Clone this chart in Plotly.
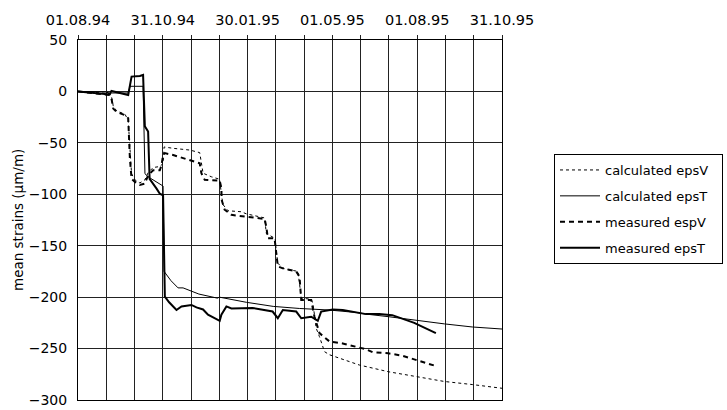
import plotly.graph_objects as go

# x = days since 01.08.94
date_labels = ["01.08.94", "31.10.94", "30.01.95", "01.05.95", "01.08.95", "31.10.95"]
date_ticks = [0, 91.2, 182.4, 273.6, 364.8, 456]

calc_epsV_x = [0, 34, 36.2, 37.9, 41.5, 50.4, 54, 55.8, 57.6, 61.2, 66.5, 71.9, 75.4, 80.8, 88, 91.5,
               92.6, 102.3, 113, 120.2, 130.9, 132.7, 134.5, 143.5, 152.4, 154.2, 155.9, 161.3, 175.7,
               181, 200.7, 202.5, 209.3, 212, 213.2, 214.9, 220.3, 236.4, 238.2, 240.1, 250.8, 252.5,
               254.3, 256.1, 259.7, 265.1, 270.4, 302.6, 333.7, 363.5, 394.1, 424.2, 456]
calc_epsV_y = [0, -2, -6, -14, -19, -22, -28, -60, -80, -86, -89, -86, -79, -74, -73, -70,
               -54, -55.3, -56.3, -57, -59.5, -68, -79.5, -83, -85.4, -100, -110, -116, -117,
               -119, -123, -138, -141, -143, -155, -167, -172, -175, -186.5, -201, -202, -206,
               -217, -230, -238.5, -253, -256, -266, -272.5, -277, -282, -285, -288.6]

calc_epsT_x = [0, 29, 34, 54, 56, 70, 72, 75.4, 91.5, 92.6, 100, 107.6, 113, 130, 150, 152, 181,
               210, 238, 270, 300, 310, 334, 362, 394, 424, 456]
calc_epsT_y = [0, -0.5, -1.5, -1.5, 5, 5, -80, -83, -92, -175, -184, -191, -191, -197, -201, -200, -205,
               -209, -211, -212.5, -215, -216.5, -219, -222.5, -226, -229, -231]

meas_espV_x = [0, 34, 36.2, 37.9, 41.5, 50.4, 54, 54.5, 55.8, 57.6, 61.2, 66.5, 71.9, 75.4, 80.8, 88,
               89.8, 91.5, 93.4, 102.3, 118.4, 130.9, 132.7, 136.3, 152.4, 154.2, 154.5, 157.7, 165,
               181, 200.7, 202.5, 204.2, 211.4, 213.2, 214.9, 220.3, 234.7, 238.2, 240.1, 250.8,
               254.3, 259.7, 270.4, 284.7, 309.8, 316.9, 333.7, 349.1, 363.5, 384.9]
meas_espV_y = [0, -3.4, -8, -16.7, -20, -23, -26, -42, -65, -85, -88, -91, -89.7, -81.5, -76.6, -76.6,
               -71.8, -62, -60, -61.8, -66.6, -69.8, -79.5, -86, -86.7, -94, -105.5, -115, -120,
               -122, -124, -131.5, -142.8, -142.8, -157, -170, -172, -175, -180, -202.8, -202.8,
               -219, -235, -243, -245, -250.7, -253.6, -254.6, -257, -261, -267]

meas_epsT_x = [0, 34, 36, 54, 57.6, 66.5, 70, 71.9, 75.4, 77, 84.5, 88, 91.5, 93.4, 98, 105.9, 111.3,
               122, 127.4, 134.5, 139.8, 152.4, 154.2, 159.6, 165, 187.8, 209.3, 214.9, 220.3, 234.7,
               240.1, 250.8, 257.9, 261.5, 274, 284.7, 309.8, 324, 338, 361.6, 384.9]
meas_epsT_y = [0, -3, 0.5, -3.4, 14.4, 15, 16, -34, -39, -85, -94.5, -99.4, -101, -199.5, -205, -212.5,
               -209, -207.6, -210, -212, -217, -223, -217, -209, -211, -210.5, -214, -220.5, -212.5,
               -214, -220.5, -219, -223, -214, -212, -212.5, -216.5, -216.5, -217.5, -225, -235]

FONT = "DejaVu Sans"
PAD = "\u00a0\u00a0"
fig = go.Figure()
series = [
    ("calculated epsV", calc_epsV_x, calc_epsV_y, dict(color="black", width=1, dash="dot")),
    ("calculated epsT", calc_epsT_x, calc_epsT_y, dict(color="black", width=1)),
    ("measured espV", meas_espV_x, meas_espV_y, dict(color="black", width=2, dash="5px,4px")),
    ("measured epsT", meas_epsT_x, meas_epsT_y, dict(color="black", width=2)),
]
for name, xs, ys, ln in series:
    fig.add_trace(go.Scatter(x=xs, y=ys, mode="lines", name=name + PAD, line=ln,
                             legendgroup=name, xaxis="x", yaxis="y"))

fig.update_layout(
    width=727, height=410,
    margin=dict(l=78, r=225, t=40, b=10, autoexpand=False),
    paper_bgcolor="white", plot_bgcolor="white",
    font=dict(family=FONT, size=14, color="black"),
    showlegend=True,
    legend=dict(x=(554 - 78) / 424, y=(400 - 154) / 360, xanchor="left", yanchor="top",
                bordercolor="black", borderwidth=1, bgcolor="white",
                font=dict(family=FONT, size=13), traceorder="grouped", tracegroupgap=6,
                itemwidth=40),
    xaxis=dict(range=[0, 456], tickmode="linear", tick0=0, dtick=456 / 15,
               showgrid=True, gridcolor="#222", gridwidth=1, zeroline=False,
               showticklabels=False, side="top", ticks="outside", ticklen=4, tickcolor="#222",
               showline=True, linecolor="black", linewidth=1, mirror=True),
    xaxis2=dict(range=[0, 456], overlaying="x", side="top", tickmode="array",
                tickvals=date_ticks, ticktext=date_labels, showgrid=False, zeroline=False,
                ticks="outside", ticklen=8, tickcolor="rgba(0,0,0,0)",
                tickfont=dict(family=FONT, size=14.5)),
    yaxis=dict(range=[-300, 50], tickmode="linear", tick0=-300, dtick=50,
               showgrid=True, gridcolor="#222", gridwidth=1, zeroline=False,
               ticks="outside", ticklen=7, tickcolor="rgba(0,0,0,0)",
               showline=True, linecolor="black", linewidth=1, mirror=True,
               ticklabeloverflow="allow", tickfont=dict(family=FONT, size=14)),
    annotations=[dict(text="mean strains (μm/m)", textangle=-90, xref="paper", yref="paper",
                      x=(18 - 78) / 424, y=0.5, xanchor="center", yanchor="middle",
                      showarrow=False, font=dict(family=FONT, size=13.5))],
)
# dummy trace on xaxis2 so the top labels render
fig.add_trace(go.Scatter(x=[0], y=[None], xaxis="x2", yaxis="y", showlegend=False,
                         hoverinfo="skip"))

# remove the default 8px page margin so the 727x410 figure fills the window exactly
fig.write_html("out.html", config={"displayModeBar": False},
               post_script="document.body.style.margin='0';")
